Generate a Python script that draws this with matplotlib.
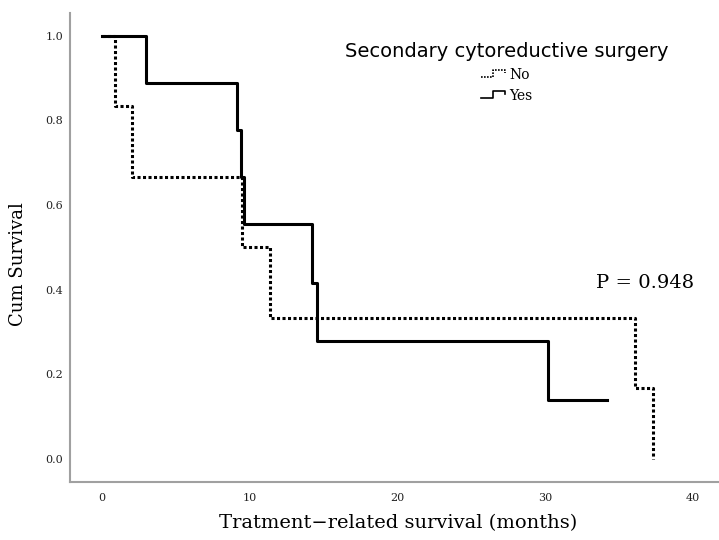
import matplotlib.pyplot as plt
from matplotlib.legend_handler import HandlerLine2D
from matplotlib.lines import Line2D

# Kaplan-Meier ступеньки
yes_time = [0, 3.0, 9.15, 9.4, 9.6, 14.2, 14.55, 30.2, 34.2]
yes_surv = [1.0, 0.889, 0.778, 0.667, 0.556, 0.417, 0.278, 0.139, 0.139]
no_time = [0, 0.9, 2.05, 9.5, 11.35, 36.1, 37.35]
no_surv = [1.0, 0.833, 0.667, 0.5, 0.333, 0.167, 0.0]

xticks = [0, 10, 20, 30, 40]
yticks = [0.0, 0.2, 0.4, 0.6, 0.8, 1.0]


# значок легенды в виде ступеньки, как в SPSS
class StepHandler(HandlerLine2D):
    def create_artists(self, legend, orig_handle, xdescent, ydescent,
                       width, height, fontsize, trans):
        x0 = -xdescent
        xa = x0 + width * 0.45
        xb = x0 + width * 0.9
        y0 = -ydescent + height * 0.15
        y1 = -ydescent + height * 0.85
        line = Line2D([x0, xa, xa, xb, xb], [y0, y0, y1, y1, y0 + height * 0.4])
        self.update_prop(line, orig_handle, legend)
        line.set_transform(trans)
        return [line]


fig = plt.figure(figsize=(7.19, 5.4), dpi=100)
ax = fig.add_axes([0.0974, 0.1074, 0.9026, 0.8691])

ax.step(no_time, no_surv, where='post', color='black', linewidth=2.2,
        linestyle=(0, (1, 0.8)), label='No')
ax.step(yes_time, yes_surv, where='post', color='black', linewidth=2.2,
        label='Yes')

ax.set_xlim(-2.17, 41.8)
ax.set_ylim(-0.054, 1.054)
ax.set_xticks(xticks)
ax.set_yticks(yticks)
ax.set_yticklabels(['%.1f' % v for v in yticks])
ax.tick_params(length=0, labelsize=8, colors='#222222')
ax.tick_params(axis='y', pad=5)
ax.tick_params(axis='x', pad=8)
for lab in ax.get_xticklabels() + ax.get_yticklabels():
    lab.set_family('DejaVu Serif')

for side in ['top', 'right']:
    ax.spines[side].set_visible(False)
for side in ['left', 'bottom']:
    ax.spines[side].set_color('#a0a0a0')
    ax.spines[side].set_linewidth(1.5)

ax.set_xlabel('Tratment\u2212related survival (months)', family='DejaVu Serif',
              fontsize=14, va='center')
ax.xaxis.set_label_coords(0.505, -0.087)
ax.set_ylabel('Cum Survival', family='DejaVu Serif', fontsize=13, va='center')
ax.yaxis.set_label_coords(-0.08, 0.465)

leg = ax.legend(title='Secondary cytoreductive surgery', frameon=False,
                loc='upper center', bbox_to_anchor=(0.673, 0.965),
                prop={'family': 'DejaVu Serif', 'size': 10},
                handlelength=1.9, handletextpad=0.1, labelspacing=0.5,
                handler_map={Line2D: StepHandler()})
leg.get_title().set_fontsize(14)
leg.get_title().set_family('DejaVu Sans')
for line in leg.get_lines():
    line.set_linewidth(1.2)

ax.text(0.897, 0.476, 'P = 0.948', transform=fig.transFigure, ha='center',
        va='center', family='DejaVu Serif', fontsize=14)

plt.savefig('out.png', dpi=100)
